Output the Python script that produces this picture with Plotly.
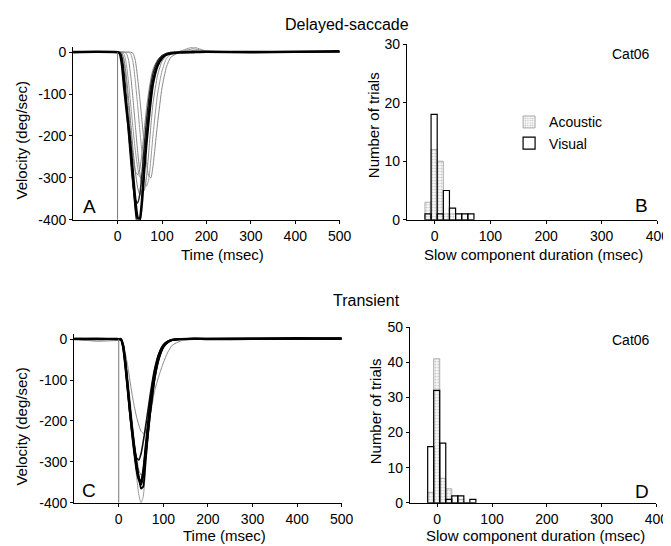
import plotly.graph_objects as go

# ---------------- data ----------------
time_ms = [-100, -50, 0, 5, 10, 15, 20, 25, 30, 35, 40, 45, 50, 55, 60, 65, 70, 75,
           80, 90, 100, 110, 120, 140, 170, 200, 300, 400, 500]

# Panel A: delayed-saccade velocity traces (deg/sec)
a1 = [0, 1, 0, -3, -30, -85, -135, -180, -235, -295, -355, -395, -400, -355, -280, -215, -160, -110, -72, -32, -14, -6, -3, -1, 0, 1, 0, 1, 2]
a2 = [1, 0, 0, 0, -10, -50, -110, -180, -250, -320, -380, -418, -410, -350, -270, -200, -140, -95, -65, -30, -12, -5, -2, 0, 1, 0, 1, 0, 1]
a3 = [0, -1, 0, 0, -5, -30, -80, -140, -200, -250, -285, -292, -280, -240, -185, -135, -95, -62, -40, -18, -8, -3, 0, 1, 2, 1, 0, 1, 0]
a4 = [0, 0, 1, 0, 0, -5, -30, -75, -130, -185, -235, -275, -298, -300, -270, -215, -160, -115, -78, -35, -14, -5, -1, 0, 2, 1, 0, 0, 1]
a5 = [0, 0, 0, 0, 0, 0, -3, -20, -60, -115, -175, -235, -285, -320, -330, -300, -240, -175, -120, -55, -22, -8, -2, 2, 4, 2, 1, 0, 1]
a6 = [0, 1, 0, 0, 0, 0, 0, 0, -5, -25, -70, -125, -185, -240, -290, -320, -305, -255, -195, -100, -45, -15, -5, 2, 12, 3, 1, 0, 2]
a7 = [0, 0, 0, 0, 0, 0, 0, 0, 0, -3, -20, -60, -110, -165, -220, -265, -295, -300, -270, -170, -85, -35, -12, 0, 8, 2, 0, 1, 0]
a8 = [1, 0, 0, -3, -20, -65, -130, -200, -265, -320, -352, -360, -340, -290, -225, -165, -115, -78, -50, -22, -9, -3, -1, 0, 1, 0, 1, 0, 1]
a9 = [0, 0, 0, 0, -2, -20, -60, -115, -175, -235, -285, -322, -340, -330, -285, -220, -160, -110, -72, -32, -12, -4, -1, 0, 1, 1, 0, 1, 0]

# Panel C: transient velocity traces (deg/sec)
c1 = [0, 1, 0, 0, -20, -65, -120, -175, -225, -270, -310, -340, -355, -330, -280, -230, -180, -135, -95, -45, -18, -7, -2, 0, 1, 0, 1, 2, 1]
c2 = [1, 0, 0, -2, -15, -55, -110, -165, -215, -262, -303, -338, -365, -360, -300, -240, -185, -140, -100, -48, -20, -8, -2, 0, 1, 1, 2, 1, 2]
c3 = [0, 0, 1, -1, -22, -70, -125, -180, -228, -265, -290, -295, -280, -250, -215, -178, -140, -105, -75, -35, -14, -5, -1, 0, 1, 0, 1, 1, 0]
c4 = [0, -4, 0, 0, -10, -45, -100, -160, -220, -280, -335, -380, -400, -385, -320, -250, -185, -130, -88, -38, -15, -5, -1, 0, 0, 1, 1, 0, 1]
c5 = [0, -5, -3, -2, -12, -35, -65, -100, -135, -165, -190, -210, -225, -230, -228, -215, -190, -160, -128, -90, -58, -32, -15, -4, 0, 0, 1, 0, 1]
c6 = [1, 0, 0, -1, -18, -60, -118, -178, -232, -280, -320, -343, -345, -320, -265, -210, -160, -118, -82, -38, -15, -6, -2, 0, 1, 1, 0, 1, 2]
c7 = [0, 1, 0, 0, -8, -40, -90, -145, -200, -250, -290, -320, -332, -325, -285, -230, -175, -128, -90, -42, -17, -6, -2, 0, 1, 0, 1, 1, 1]

# Histograms: slow component duration (msec)
bin_centers = [-12, -1, 10, 21, 32, 43, 54, 65]
bin_width = 11
b_acoustic = [3, 12, 10, 1, 1, 0, 0, 0]
b_visual = [1, 18, 1, 5, 2, 1, 1, 1]
d_acoustic = [3, 41, 7, 4, 0, 1, 0, 0]
d_visual = [16, 32, 17, 1, 2, 2, 0, 1]

vel_ticks = [0, -100, -200, -300, -400]
vel_labels = ["0", "-100", "-200", "-300", "-400"]
time_ticks = [0, 100, 200, 300, 400, 500]
dur_ticks = [0, 100, 200, 300, 400]
b_count_ticks = [0, 10, 20, 30]
d_count_ticks = [0, 10, 20, 30, 40, 50]

# ---------------- figure ----------------
W, H = 671, 546
FONT = "Arial, Liberation Sans, sans-serif"
fig = go.Figure()

styles_a = [(a2, "black", 1.2), (a3, "#888", 1), (a4, "#999", 1), (a5, "#888", 1),
            (a6, "#999", 1), (a7, "#888", 1), (a9, "#777", 1), (a8, "#222", 1.5),
            (a1, "black", 2.6)]
for vals, col, w in styles_a:
    fig.add_trace(go.Scatter(x=time_ms, y=vals, mode="lines", xaxis="x", yaxis="y",
                             line=dict(color=col, width=w, shape="spline", smoothing=0.5),
                             showlegend=False, hoverinfo="skip"))

styles_c = [(c5, "#888", 1), (c4, "#999", 1), (c7, "#777", 1), (c3, "#111", 1.6),
            (c6, "black", 2), (c2, "black", 1.8), (c1, "black", 2.4)]
for vals, col, w in styles_c:
    fig.add_trace(go.Scatter(x=time_ms, y=vals, mode="lines", xaxis="x3", yaxis="y3",
                             line=dict(color=col, width=w, shape="spline", smoothing=0.5),
                             showlegend=False, hoverinfo="skip"))

acoustic_marker = dict(color="rgba(255,255,255,0)",
                       pattern=dict(shape=".", fgcolor="#888", bgcolor="rgba(255,255,255,0)",
                                    size=3, solidity=0.4),
                       line=dict(color="#999", width=0.8))
visual_marker = dict(color="rgba(255,255,255,0)", line=dict(color="black", width=1.2))

for xa, ya, ac, vi, leg in [("x2", "y2", b_acoustic, b_visual, True),
                            ("x4", "y4", d_acoustic, d_visual, False)]:
    fig.add_trace(go.Bar(x=bin_centers, y=ac, width=bin_width, xaxis=xa, yaxis=ya,
                         marker=acoustic_marker, name="Acoustic", showlegend=leg,
                         hoverinfo="skip"))
    fig.add_trace(go.Bar(x=bin_centers, y=vi, width=bin_width, xaxis=xa, yaxis=ya,
                         marker=visual_marker, name="Visual", showlegend=leg,
                         hoverinfo="skip"))

axis_common = dict(showline=True, linecolor="black", linewidth=1, ticks="outside",
                   ticklen=3, tickcolor="black", tickwidth=1, showgrid=False,
                   zeroline=False, tickfont=dict(size=14, color="black", family=FONT),
                   fixedrange=True)


# map a target position in the photographed page to paper coordinates
def px_x(p):
    return (p - 8) / 0.98 / W


def px_y(p):
    return 1 - max(p - 16, 8) / 0.967 / H


fig.update_layout(
    width=W, height=H, margin=dict(l=0, r=0, t=0, b=0),
    plot_bgcolor="white", paper_bgcolor="white",
    font=dict(family=FONT, size=14, color="black"),
    barmode="overlay",
    xaxis=dict(axis_common, domain=[px_x(73), px_x(339)], range=[-100, 500],
               tickvals=time_ticks, anchor="y"),
    yaxis=dict(axis_common, domain=[px_y(219), px_y(47)], range=[-400, 12],
               tickvals=vel_ticks, ticktext=vel_labels, anchor="x"),
    xaxis2=dict(axis_common, domain=[px_x(406), px_x(656)], range=[-50, 400],
                tickvals=dur_ticks, anchor="y2"),
    yaxis2=dict(axis_common, domain=[px_y(219), px_y(44)], range=[0, 30],
                tickvals=b_count_ticks, anchor="x2"),
    xaxis3=dict(axis_common, domain=[px_x(74), px_x(341)], range=[-100, 500],
                tickvals=time_ticks, anchor="y3"),
    yaxis3=dict(axis_common, domain=[px_y(501), px_y(333)], range=[-400, 12],
                tickvals=vel_ticks, ticktext=vel_labels, anchor="x3"),
    xaxis4=dict(axis_common, domain=[px_x(409), px_x(655)], range=[-50, 400],
                tickvals=dur_ticks, anchor="y4"),
    yaxis4=dict(axis_common, domain=[px_y(501), px_y(326)], range=[0, 50],
                tickvals=d_count_ticks, anchor="x4"),
    legend=dict(x=px_x(508), y=px_y(106), xanchor="left", yanchor="top",
                bgcolor="rgba(0,0,0,0)", font=dict(size=14), traceorder="normal",
                itemwidth=30, tracegroupgap=0),
)

# stimulus-onset lines at time 0
for xr, yr in [("x", "y"), ("x3", "y3")]:
    fig.add_shape(type="line", xref=xr, yref=yr, x0=0, x1=0, y0=-400, y1=0,
                  line=dict(color="#777", width=1))


def ann(text, x, y, size=15, angle=0):
    fig.add_annotation(text=text, x=px_x(x), y=px_y(y), xref="paper", yref="paper",
                       showarrow=False, textangle=angle,
                       font=dict(size=size, color="black", family=FONT),
                       xanchor="center", yanchor="middle")


ann("Delayed-saccade", 346, 16, size=16)
ann("Transient", 366, 299, size=16)
ann("Time (msec)", 222, 254)
ann("Time (msec)", 224, 534)
ann("Slow component duration (msec)", 532, 254)
ann("Slow component duration (msec)", 534, 534)
ann("Velocity (deg/sec)", 21, 140, angle=-90)
ann("Velocity (deg/sec)", 22, 425, angle=-90)
ann("Number of trials", 373, 125, angle=-90)
ann("Number of trials", 375, 410, angle=-90)
ann("A", 89, 206, size=19)
ann("B", 640, 205, size=19)
ann("C", 89, 489, size=19)
ann("D", 641, 490, size=19)
ann("Cat06", 630, 54, size=14)
ann("Cat06", 630, 339, size=14)

fig.write_html("out.html")
